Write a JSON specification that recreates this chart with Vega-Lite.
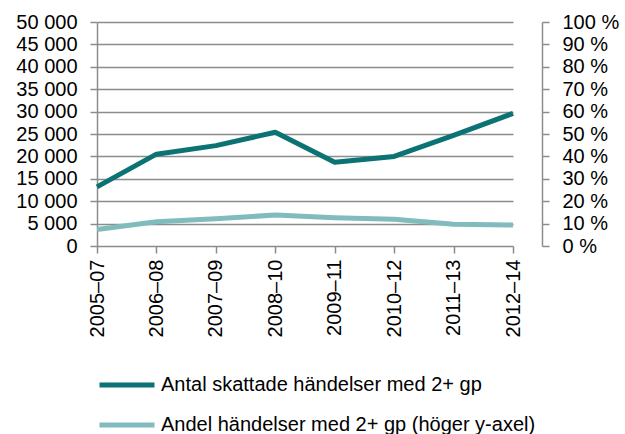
{
  "$schema": "https://vega.github.io/schema/vega-lite/v6.json",
  "width": 445,
  "height": 224,
  "autosize": {"type": "none"},
  "padding": {"left": 97, "top": 22, "right": 83, "bottom": 188},
  "config": {
    "view": {"stroke": null},
    "font": "Liberation Sans",
    "axis": {
      "labelFont": "Liberation Sans",
      "labelFontSize": 20,
      "labelColor": "#000000",
      "domainColor": "#8c8c8c",
      "domainWidth": 1.5,
      "tickColor": "#8c8c8c",
      "tickWidth": 1.5,
      "tickSize": 7,
      "gridColor": "#8c8c8c",
      "gridWidth": 1.5,
      "title": null
    }
  },
  "data": {
    "values": [
      {"period": "2005–07", "antal": 13200, "andel": 7.4},
      {"period": "2006–08", "antal": 20500, "andel": 10.8},
      {"period": "2007–09", "antal": 22400, "andel": 12.2},
      {"period": "2008–10", "antal": 25400, "andel": 13.8},
      {"period": "2009–11", "antal": 18700, "andel": 12.6},
      {"period": "2010–12", "antal": 20000, "andel": 11.9},
      {"period": "2011–13", "antal": 24700, "andel": 9.7},
      {"period": "2012–14", "antal": 29600, "andel": 9.4}
    ]
  },
  "encoding": {
    "x": {
      "field": "period",
      "type": "ordinal",
      "sort": null,
      "scale": {"type": "point", "range": [0, 416], "padding": 0},
      "axis": {
        "domain": false,
        "grid": false,
        "labelAngle": -90,
        "labelAlign": "right",
        "labelBaseline": "middle",
        "labelPadding": 6
      }
    }
  },
  "layer": [
    {
      "mark": {"type": "line", "strokeWidth": 5, "strokeCap": "butt", "strokeJoin": "round"},
      "encoding": {
        "y": {
          "field": "antal",
          "type": "quantitative",
          "scale": {"domain": [0, 50000]},
          "axis": {
            "orient": "left",
            "values": [0, 5000, 10000, 15000, 20000, 25000, 30000, 35000, 40000, 45000, 50000],
            "labelExpr": "replace(format(datum.value, ','), ',', ' ')",
            "grid": true,
            "labelPadding": 13
          }
        },
        "color": {
          "datum": "Antal skattade händelser med 2+ gp",
          "type": "nominal",
          "scale": {
            "domain": ["Antal skattade händelser med 2+ gp", "Andel händelser med 2+ gp (höger y-axel)"],
            "range": ["#0b7373", "#80bcbe"]
          },
          "legend": {
            "orient": "none",
            "legendX": 0,
            "legendY": 333,
            "direction": "vertical",
            "title": null,
            "symbolType": "stroke",
            "symbolSize": 3025,
            "symbolStrokeWidth": 5,
            "labelFont": "Liberation Sans",
            "labelFontSize": 20,
            "labelColor": "#000000",
            "labelOffset": 4,
            "labelLimit": 600,
            "rowPadding": -10
          }
        }
      }
    },
    {
      "mark": {"type": "line", "strokeWidth": 5, "strokeCap": "butt", "strokeJoin": "round"},
      "encoding": {
        "y": {
          "field": "andel",
          "type": "quantitative",
          "scale": {"domain": [0, 100]},
          "axis": {
            "orient": "right",
            "values": [0, 10, 20, 30, 40, 50, 60, 70, 80, 90, 100],
            "labelExpr": "datum.value + ' %'",
            "grid": false,
            "labelPadding": 13
          }
        },
        "color": {"datum": "Andel händelser med 2+ gp (höger y-axel)", "type": "nominal"}
      }
    }
  ],
  "resolve": {"scale": {"y": "independent"}}
}
